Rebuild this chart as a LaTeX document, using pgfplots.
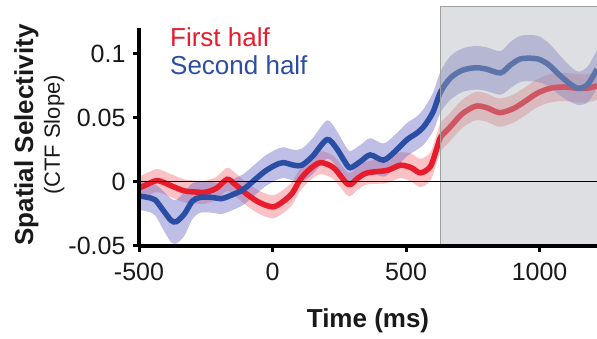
\documentclass[border=0pt]{standalone}
\usepackage{fontspec}
\setmainfont{Liberation Sans}
\usepackage{pgfplots}
\pgfplotsset{compat=1.18}
\usepackage{pgfplotstable}
\usepgfplotslibrary{fillbetween}
\definecolor{cred}{RGB}{232,28,44}
\definecolor{cblue}{RGB}{42,78,163}
\definecolor{credband}{RGB}{240,80,90}
\definecolor{cblueband}{RGB}{110,110,200}
\definecolor{cgray}{RGB}{170,175,182}
\definecolor{cedge}{RGB}{160,160,160}

\pgfplotstableread{
t m e
-500 -0.005 0.009
-470 -0.002 0.009
-430 0.001 0.009
-380 -0.003 0.009
-330 -0.007 0.009
-280 -0.008 0.009
-250 -0.008 0.009
-210 -0.005 0.009
-170 0.002 0.009
-140 -0.002 0.009
-100 -0.009 0.009
-50 -0.016 0.009
0 -0.0195 0.009
35 -0.016 0.009
73 -0.009 0.009
104 0.002 0.009
140 0.010 0.009
179 0.015 0.009
229 0.011 0.009
284 -0.002 0.009
320 0.003 0.009
354 0.007 0.009
429 0.009 0.010
479 0.013 0.010
520 0.011 0.011
554 0.007 0.011
591 0.012 0.011
615 0.026 0.011
630 0.035 0.011
666 0.043 0.011
710 0.053 0.011
760 0.059 0.011
800 0.058 0.011
850 0.054 0.011
900 0.057 0.011
940 0.062 0.011
990 0.069 0.011
1040 0.073 0.011
1090 0.074 0.011
1140 0.073 0.011
1180 0.073 0.011
1215 0.075 0.011
}\reddata

\pgfplotstableread{
t m e
-500 -0.011 0.011
-470 -0.012 0.011
-440 -0.014 0.012
-410 -0.022 0.015
-380 -0.030 0.017
-360 -0.031 0.017
-330 -0.025 0.017
-300 -0.015 0.014
-270 -0.012 0.012
-230 -0.012 0.012
-190 -0.013 0.012
-150 -0.010 0.012
-110 -0.006 0.012
-70 0.001 0.012
-30 0.008 0.012
10 0.013 0.012
40 0.015 0.012
80 0.013 0.012
110 0.013 0.013
150 0.020 0.014
204 0.033 0.015
240 0.026 0.014
270 0.016 0.013
291 0.011 0.013
330 0.016 0.013
366 0.021 0.013
416 0.017 0.013
460 0.024 0.013
504 0.033 0.013
540 0.038 0.013
566 0.043 0.014
600 0.054 0.015
629 0.070 0.016
666 0.081 0.017
710 0.087 0.017
760 0.089 0.017
800 0.088 0.017
854 0.085 0.017
890 0.091 0.018
930 0.096 0.018
990 0.096 0.018
1030 0.092 0.017
1066 0.085 0.016
1110 0.077 0.014
1145 0.073 0.013
1180 0.076 0.014
1215 0.088 0.015
}\bluedata

\begin{document}
\begin{tikzpicture}
\begin{axis}[
  at={(0,0)}, anchor=south west,
  width=458pt, height=218pt, scale only axis,
  xmin=-500, xmax=1215, ymin=-0.05, ymax=0.12,
  axis lines=left,
  axis line style={line width=4.5pt, -},
  clip=false,
  axis on top=true,
  xtick={-500,0,500,1000},
  xticklabels={-500,0,500,1000},
  ytick={-0.05,0,0.05,0.1},
  yticklabels={-0.05,0,0.05,0.1},
  tick align=outside,
  major tick length=6pt,
  tick style={line width=3pt, black},
  tick label style={font=\fontsize{25}{30}\selectfont, text=black!90},
  xticklabel style={yshift=-8pt},
  yticklabel style={xshift=-4pt},
]
% red band and line
\addplot[draw=none, name path=rlo, smooth] table[x=t, y expr=\thisrow{m}-\thisrow{e}] {\reddata};
\addplot[draw=none, name path=rhi, smooth] table[x=t, y expr=\thisrow{m}+\thisrow{e}] {\reddata};
\addplot[fill=credband, fill opacity=0.35, draw=none] fill between[of=rlo and rhi];
\addplot[cred, line width=5.5pt, smooth] table[x=t, y=m] {\reddata};
% blue band and line
\addplot[draw=none, name path=blo, smooth] table[x=t, y expr=\thisrow{m}-\thisrow{e}] {\bluedata};
\addplot[draw=none, name path=bhi, smooth] table[x=t, y expr=\thisrow{m}+\thisrow{e}] {\bluedata};
\addplot[fill=cblueband, fill opacity=0.45, draw=none] fill between[of=blo and bhi];
\addplot[cblue, line width=5.5pt, smooth] table[x=t, y=m] {\bluedata};
% gray overlay
\fill[cgray, fill opacity=0.4] (axis cs:629,-0.05) rectangle (axis cs:1215,0.137);
\draw[cedge, line width=1pt] (axis cs:629,-0.05) -- (axis cs:629,0.137) -- (axis cs:1215,0.137);
% zero line
\draw[black, line width=1.1pt] (axis cs:-500,0) -- (axis cs:1215,0);
% legend
\node[anchor=base west, text=cred, font=\fontsize{26}{31}\selectfont, inner sep=0pt] at (axis cs:-384,0.1057) {First half};
\node[anchor=base west, text=cblue, font=\fontsize{26}{31}\selectfont, inner sep=0pt] at (axis cs:-384,0.0836) {Second half};
% labels
\node[rotate=90, anchor=base, inner sep=0pt, font=\bfseries\fontsize{26}{31}\selectfont, text=black!90] at (axis description cs:-0.2314,0.509) {Spatial Selectivity};
\node[rotate=90, anchor=base, inner sep=0pt, font=\fontsize{22}{26}\selectfont, text=black!90] at (axis description cs:-0.1725,0.509) {(CTF Slope)};
\node[anchor=base, inner sep=0pt, font=\bfseries\fontsize{26}{31}\selectfont, text=black!90] at (axis description cs:0.5,-0.372) {Time (ms)};
\end{axis}
\pgfresetboundingbox
\path[use as bounding box] (-139pt,-93pt) rectangle (458pt,246pt);
\end{tikzpicture}
\end{document}
